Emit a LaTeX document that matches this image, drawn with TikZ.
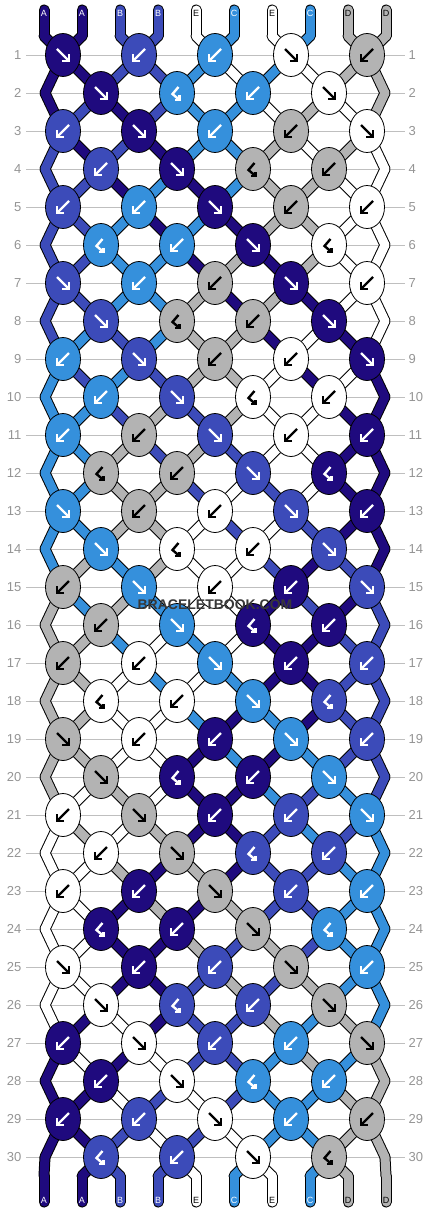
\documentclass[tikz,border=0pt]{standalone}
\usepackage{fontspec}
\setmainfont{Liberation Sans}
\usetikzlibrary{shapes.geometric}

\definecolor{strA}{HTML}{1F0A7E}
\definecolor{strB}{HTML}{3C4BB9}
\definecolor{strC}{HTML}{3590DC}
\definecolor{strD}{HTML}{B3B3B3}
\definecolor{strE}{HTML}{FFFFFF}
\colorlet{inkA}{white}
\colorlet{inkB}{white}
\colorlet{inkC}{white}
\colorlet{inkD}{black}
\colorlet{inkE}{black}

% string colours between two rows (row r to row r+1)
\newcommand\strandstates{%
0/{A,A,B,B,E,C,E,C,D,D},
1/{A,A,B,B,C,E,C,E,D,D},
2/{A,B,A,B,C,C,E,D,E,D},
3/{B,A,B,A,C,C,D,E,D,E},
4/{B,B,A,C,A,C,D,D,E,E},
5/{B,B,C,A,C,A,D,D,E,E},
6/{B,B,C,C,A,D,A,D,E,E},
7/{B,B,C,C,D,A,D,A,E,E},
8/{B,C,B,C,D,D,A,E,A,E},
9/{C,B,C,B,D,D,E,A,E,A},
10/{C,C,B,D,B,D,E,E,A,A},
11/{C,C,D,B,D,B,E,E,A,A},
12/{C,C,D,D,B,E,B,E,A,A},
13/{C,C,D,D,E,B,E,B,A,A},
14/{C,D,C,D,E,E,B,A,B,A},
15/{D,C,D,C,E,E,A,B,A,B},
16/{D,D,C,E,C,E,A,A,B,B},
17/{D,D,E,C,E,C,A,A,B,B},
18/{D,D,E,E,C,A,C,A,B,B},
19/{D,D,E,E,A,C,A,C,B,B},
20/{D,E,D,E,A,A,C,B,C,B},
21/{E,D,E,D,A,A,B,C,B,C},
22/{E,E,D,A,D,A,B,B,C,C},
23/{E,E,A,D,A,D,B,B,C,C},
24/{E,E,A,A,D,B,D,B,C,C},
25/{E,E,A,A,B,D,B,D,C,C},
26/{E,A,E,A,B,B,D,C,D,C},
27/{A,E,A,E,B,B,C,D,C,D},
28/{A,A,E,B,E,B,C,C,D,D},
29/{A,A,B,E,B,E,C,C,D,D},
30/{A,A,B,B,E,C,E,C,D,D}}

% knots: colour/type (F forward, B backward, H backward-forward)
\newcommand\knotrows{%
1/{A/F,B/B,C/B,E/F,D/B},
2/{A/F,C/H,C/B,E/F},
3/{B/B,A/F,C/B,D/B,E/F},
4/{B/B,A/F,D/H,D/B},
5/{B/B,C/B,A/F,D/B,E/B},
6/{C/H,C/B,A/F,E/H},
7/{B/F,C/B,D/B,A/F,E/B},
8/{B/F,D/H,D/B,A/F},
9/{C/B,B/F,D/B,E/B,A/F},
10/{C/B,B/F,E/H,E/B},
11/{C/B,D/B,B/F,E/B,A/B},
12/{D/H,D/B,B/F,A/H},
13/{C/F,D/B,E/B,B/F,A/B},
14/{C/F,E/H,E/B,B/F},
15/{D/B,C/F,E/B,A/B,B/F},
16/{D/B,C/F,A/H,A/B},
17/{D/B,E/B,C/F,A/B,B/B},
18/{E/H,E/B,C/F,B/H},
19/{D/F,E/B,A/B,C/F,B/B},
20/{D/F,A/H,A/B,C/F},
21/{E/B,D/F,A/B,B/B,C/F},
22/{E/B,D/F,B/H,B/B},
23/{E/B,A/B,D/F,B/B,C/B},
24/{A/H,A/B,D/F,C/H},
25/{E/F,A/B,B/B,D/F,C/B},
26/{E/F,B/H,B/B,D/F},
27/{A/B,E/F,B/B,C/B,D/F},
28/{A/B,E/F,C/H,C/B},
29/{A/B,B/B,E/F,C/B,D/B},
30/{B/H,B/B,E/F,D/H}}

\tikzset{
    knot/.style={ellipse, draw=black, line width=0.8, minimum width=35, minimum height=43, inner sep=0},
    strandedge/.style={line width=11, line cap=round, draw=black},
    strandfill/.style={line width=9, line cap=round, draw=str#1},
    rowline/.style={draw=black!25, line width=0.8},
    rownum/.style={text=black!42, font=\fontsize{13}{13}\selectfont, inner sep=0},
    endlabel/.style={font=\fontsize{9}{9}\selectfont, inner sep=0},
    wmark/.style={font=\fontsize{14}{14}\selectfont\bfseries, inner sep=0},
    arrowline/.style={line width=2.4, line join=miter},
    arrF/.pic={\draw[arrowline] (-6,-6) -- (6,6); \draw[arrowline] (-1,6) -- (6,6) -- (6,-1);},
    arrB/.pic={\draw[arrowline] (6,-6) -- (-6,6); \draw[arrowline] (1,6) -- (-6,6) -- (-6,-1);},
    arrH/.pic={\draw[arrowline] (1.5,-6) -- (-4.5,1) -- (2.5,7); \draw[arrowline] (-2,7) -- (2.5,7) -- (2.5,2.5);}
}

\begin{document}
\begin{tikzpicture}[x=1pt,y=-1pt]
    \useasboundingbox (0,0) rectangle (430,1212);

    %Coordinates
    \foreach \r in {1,...,30} {
        \pgfmathsetmacro\ky{38*\r+17}
        \ifodd\r\relax
            \foreach \kj in {1,...,5} {\coordinate (c-\r-\kj) at ({76*\kj-13},\ky);}
            \foreach \p in {1,...,10} {\pgfmathtruncatemacro\kj{(\p+1)/2}\coordinate (s-\r-\p) at (c-\r-\kj);}
        \else
            \foreach \kj in {1,...,4} {\coordinate (c-\r-\kj) at ({76*\kj+25},\ky);}
            \coordinate (s-\r-1) at (45,\ky);
            \coordinate (s-\r-10) at (385,\ky);
            \foreach \p in {2,...,9} {\pgfmathtruncatemacro\kj{\p/2}\coordinate (s-\r-\p) at (c-\r-\kj);}
        \fi
    }
    \foreach \p in {1,...,10} {
        \coordinate (top-\p) at ({38*\p+6},10);
        \coordinate (s-0-\p) at ({38*\p+6},36);
        \coordinate (s-31-\p) at ({38*\p+6},1176);
        \coordinate (bot-\p) at ({38*\p+6},1202);
    }

    %Rows
    \foreach \r in {1,...,30} {
        \pgfmathsetmacro\ky{38*\r+17}
        \draw[rowline] (26,\ky) -- (405,\ky);
        \node[rownum, anchor=east] (nl-\r) at (21.5,\ky) {\r};
        \node[rownum, anchor=west] (nr-\r) at (408.5,\ky) {\r};
    }

    %Strands
    \foreach \pass in {strandedge,strandfill} {
        \foreach \kc [count=\p] in {A,A,B,B,E,C,E,C,D,D} {
            \draw[\pass=\kc] (top-\p) -- (s-0-\p);
            \draw[\pass=\kc] (s-31-\p) -- (bot-\p);
        }
        \foreach \r/\st in \strandstates {
            \pgfmathtruncatemacro\rr{\r+1}
            \foreach \kc [count=\p] in \st {
                \draw[\pass=\kc] (s-\r-\p) -- (s-\rr-\p);
            }
        }
    }

    %Knots
    \foreach \r/\kl in \knotrows {
        \foreach \kc/\kt [count=\kj] in \kl {
            \node[knot, fill=str\kc] (k-\r-\kj) at (c-\r-\kj) {};
            \pic[color=ink\kc] at (k-\r-\kj) {arr\kt};
        }
    }

    %Labels
    \foreach \kc [count=\p] in {A,A,B,B,E,C,E,C,D,D} {
        \node[endlabel, text=ink\kc] (lt-\p) at ({38*\p+6},13) {\kc};
        \node[endlabel, text=ink\kc] (lb-\p) at ({38*\p+6},1200) {\kc};
    }

    %Watermark
    \node[wmark, text=black!78] (wm) at (215,605) {BRACELETBOOK.COM};
\end{tikzpicture}
\end{document}
